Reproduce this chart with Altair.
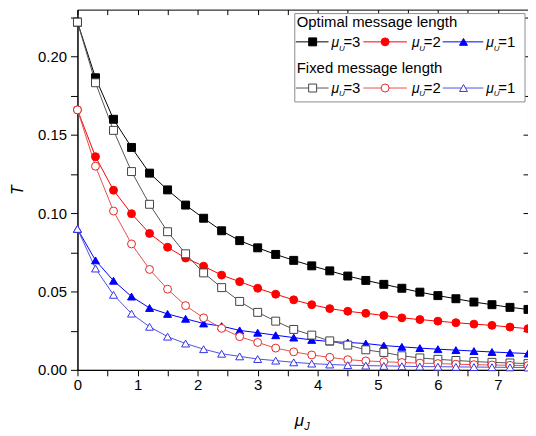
import altair as alt
import pandas as pd

# ---------------- data ----------------
mu_j = [0.0, 0.3, 0.6, 0.9, 1.2, 1.5, 1.8, 2.1, 2.4, 2.7, 3.0, 3.3, 3.6, 3.9,
        4.2, 4.5, 4.8, 5.1, 5.4, 5.7, 6.0, 6.3, 6.6, 6.9, 7.2, 7.5]

opt_mu3 = [0.222, 0.1865, 0.160, 0.142, 0.1256, 0.1149, 0.1052, 0.0968, 0.0888,
           0.0825, 0.0779, 0.0737, 0.0699, 0.0664, 0.0632, 0.0599, 0.0571, 0.0546,
           0.0521, 0.0496, 0.0474, 0.0454, 0.0433, 0.0416, 0.0399, 0.0386]
opt_mu2 = [0.166, 0.1361, 0.1147, 0.0997, 0.0871, 0.0783, 0.0714, 0.0662, 0.0605,
           0.0563, 0.0521, 0.0483, 0.0447, 0.0416, 0.0391, 0.0374, 0.0361, 0.0347,
           0.0332, 0.0321, 0.0311, 0.0301, 0.0292, 0.0284, 0.0273, 0.0263]
opt_mu1 = [0.090, 0.0699, 0.0569, 0.0468, 0.0395, 0.0357, 0.0326, 0.0296, 0.0279,
           0.0252, 0.0237, 0.0221, 0.0206, 0.0191, 0.0181, 0.0175, 0.0168, 0.0155,
           0.0147, 0.0139, 0.0132, 0.0126, 0.0120, 0.0114, 0.0109, 0.0104]
fix_mu3 = [0.222, 0.1833, 0.1529, 0.1266, 0.1057, 0.0882, 0.0741, 0.0619, 0.0525,
           0.0437, 0.0367, 0.0311, 0.0258, 0.0222, 0.0185, 0.0158, 0.0128, 0.0111,
           0.0090, 0.0076, 0.0067, 0.0060, 0.0053, 0.0048, 0.0044, 0.0040]
fix_mu2 = [0.166, 0.130, 0.1014, 0.0804, 0.0641, 0.0515, 0.0410, 0.0332, 0.0265,
           0.0212, 0.0175, 0.0139, 0.0115, 0.0095, 0.0080, 0.0065, 0.0057, 0.0052,
           0.0047, 0.0043, 0.0040, 0.0036, 0.0033, 0.0031, 0.0029, 0.0027]
fix_mu1 = [0.090, 0.0647, 0.0479, 0.0359, 0.0275, 0.0212, 0.0168, 0.0132, 0.0103,
           0.0086, 0.0069, 0.0059, 0.0048, 0.0040, 0.0034, 0.0030, 0.0027, 0.0025,
           0.0023, 0.0021, 0.0020, 0.0019, 0.0018, 0.0017, 0.0016, 0.0015]

series_keys = ["opt3", "opt2", "opt1", "fix3", "fix2", "fix1"]
series_vals = [opt_mu3, opt_mu2, opt_mu1, fix_mu3, fix_mu2, fix_mu1]
legend_nums = ["=3", "=2", "=1", "=3", "=2", "=1"]
legend_titles = ["Optimal message length", "Fixed message length"]

x_ticks = [0, 0.5, 1, 1.5, 2, 2.5, 3, 3.5, 4, 4.5, 5, 5.5, 6, 6.5, 7, 7.5]
y_ticks = [0, 0.025, 0.05, 0.075, 0.1, 0.125, 0.15, 0.175, 0.2, 0.225]

# ---------------- styles ----------------
line_colors = ["#000000", "#ff0000", "#0000ff", "#555555", "#e65050", "#5050e6"]
shapes = ["square", "circle", "triangle-up", "square", "circle", "triangle-up"]
fills = ["#000000", "#ff0000", "#0000ff", "#ffffff", "#ffffff", "#ffffff"]
strokes = ["#000000", "#ff0000", "#0000ff", "#444444", "#e02828", "#3434e0"]
FONT = "Liberation Sans"

rows = []
for key, vals in zip(series_keys, series_vals):
    for xv, tv in zip(mu_j, vals):
        rows.append({"mu_j": xv, "T": tv, "series": key})
df = pd.DataFrame(rows)

W, H = 454, 363
xs = alt.Scale(domain=[0, 7.5], nice=False, zero=False)
ys = alt.Scale(domain=[0, 0.23], nice=False, zero=False)
col_s = alt.Scale(domain=series_keys, range=line_colors)
shp_s = alt.Scale(domain=series_keys, range=shapes)
fil_s = alt.Scale(domain=series_keys, range=fills)
stk_s = alt.Scale(domain=series_keys, range=strokes)

x_axis = alt.Axis(values=x_ticks, labelExpr="datum.value % 1 == 0 ? format(datum.value, 'd') : ''",
                  tickSize=6, labelFontSize=15, labelPadding=2, labelFlush=False, labelOverlap=False,
                  title=None, grid=False, domainColor="black", tickColor="black",
                  labelColor="black", labelFont=FONT)
y_axis = alt.Axis(values=y_ticks,
                  labelExpr="abs(datum.value*20 - round(datum.value*20)) < 1e-6 ? format(datum.value, '.2f') : ''",
                  tickSize=7, labelFontSize=15, labelPadding=4, labelOverlap=False, labelFlush=False,
                  title="T", titleFontStyle="italic", titleFontWeight="normal", titleFontSize=16,
                  titleFont=FONT, titleColor="black", titlePadding=12,
                  grid=False, domainColor="black", tickColor="black", labelColor="black", labelFont=FONT)

lines = alt.Chart(df).mark_line(strokeWidth=1).encode(
    x=alt.X("mu_j:Q", scale=xs, axis=x_axis),
    y=alt.Y("T:Q", scale=ys, axis=y_axis),
    color=alt.Color("series:N", scale=col_s, legend=None),
    detail="series:N",
)

points = alt.Chart(df).mark_point(opacity=1, strokeWidth=1, size=64).encode(
    x=alt.X("mu_j:Q", scale=xs, axis=None),
    y=alt.Y("T:Q", scale=ys, axis=None),
    shape=alt.Shape("series:N", scale=shp_s, legend=None),
    fill=alt.Fill("series:N", scale=fil_s, legend=None),
    stroke=alt.Stroke("series:N", scale=stk_s, legend=None),
    order=alt.Order("order:Q"),
).transform_calculate(order="indexof(%s, datum.series)" % str(series_keys))

frame_axes = alt.Chart(df).mark_point(opacity=0).encode(
    x=alt.X("mu_j:Q", scale=xs, axis=alt.Axis(orient="top", values=x_ticks, labels=False, domain=False,
                                              tickSize=5, offset=-5, title=None, grid=False, tickColor="black")),
    y=alt.Y("T:Q", scale=ys, axis=alt.Axis(orient="right", values=y_ticks, labels=False, domain=False,
                                           tickSize=5, offset=-5, title=None, grid=False, tickColor="black")),
)

# ---------------- legend (layout in pixels) ----------------
leg = pd.DataFrame({
    "series": series_keys,
    "num": legend_nums,
    "x1": [220, 288, 368, 220, 288, 368],
    "x2": [253, 332, 409, 253, 332, 409],
    "xm": [237, 310, 389, 237, 310, 389],
    "xl": [256, 337, 412, 256, 337, 412],
    "ly": [32.5, 32.5, 32.5, 79, 79, 79],
    "lb": [38, 38, 38, 84, 84, 84],
})
leg["xu"] = leg["xl"] + 7.5
leg["xe"] = leg["xl"] + 12
leg["lbu"] = leg["lb"] + 3.5

box_df = pd.DataFrame({"bx1": [219], "bx2": [451], "by1": [4], "by2": [93]})
titles_df = pd.DataFrame({"tx": [221, 221], "ty": [18, 64], "text": legend_titles})

box = alt.Chart(box_df).mark_rect(fill="white", stroke="#8c8c8c", strokeWidth=1).encode(
    x=alt.X("bx1:Q", scale=None, axis=None), x2="bx2:Q",
    y=alt.Y("by1:Q", scale=None, axis=None), y2="by2:Q")

leg_titles = alt.Chart(titles_df).mark_text(font=FONT, fontSize=15, align="left", baseline="alphabetic",
                                            color="black").encode(
    x=alt.X("tx:Q", scale=None, axis=None), y=alt.Y("ty:Q", scale=None, axis=None), text="text:N")

leg_lines = alt.Chart(leg).mark_rule(strokeWidth=1).encode(
    x=alt.X("x1:Q", scale=None, axis=None), x2="x2:Q",
    y=alt.Y("ly:Q", scale=None, axis=None),
    color=alt.Color("series:N", scale=col_s, legend=None))

leg_points = alt.Chart(leg).mark_point(opacity=1, strokeWidth=1, size=64).encode(
    x=alt.X("xm:Q", scale=None, axis=None), y=alt.Y("ly:Q", scale=None, axis=None),
    shape=alt.Shape("series:N", scale=shp_s, legend=None),
    fill=alt.Fill("series:N", scale=fil_s, legend=None),
    stroke=alt.Stroke("series:N", scale=stk_s, legend=None))

leg_mu = alt.Chart(leg).mark_text(font=FONT, fontSize=14, fontStyle="italic", align="left",
                                  baseline="alphabetic", color="black").encode(
    x=alt.X("xl:Q", scale=None, axis=None), y=alt.Y("lb:Q", scale=None, axis=None), text=alt.value("μ"))
leg_u = alt.Chart(leg).mark_text(font=FONT, fontSize=8, fontStyle="italic", align="left",
                                 baseline="alphabetic", color="black").encode(
    x=alt.X("xu:Q", scale=None, axis=None), y=alt.Y("lbu:Q", scale=None, axis=None), text=alt.value("U"))
leg_num = alt.Chart(leg).mark_text(font=FONT, fontSize=15, align="left",
                                   baseline="alphabetic", color="black").encode(
    x=alt.X("xe:Q", scale=None, axis=None), y=alt.Y("lb:Q", scale=None, axis=None), text="num:N")

# x-axis title  mu_J
xt_df = pd.DataFrame({"x": [219, 228.5], "y": [420, 424], "t": ["μ", "J"], "s": [17, 11]})
x_title = alt.Chart(xt_df).mark_text(font=FONT, fontStyle="italic", align="left", baseline="alphabetic",
                                     color="black").encode(
    x=alt.X("x:Q", scale=None, axis=None), y=alt.Y("y:Q", scale=None, axis=None), text="t:N",
    size=alt.Size("s:Q", scale=None, legend=None))

chart = alt.layer(
    frame_axes, lines, points, box, leg_titles, leg_lines, leg_points, leg_mu, leg_u, leg_num, x_title
).resolve_axis(x="independent", y="independent").properties(
    width=W, height=H,
    padding={"left": 70, "top": 0, "right": 0, "bottom": 62},
    autosize=alt.AutoSizeParams(type="none"),
).configure_view(stroke="black", strokeWidth=1)

chart.save("out.html", embed_options={"renderer": "svg", "actions": False})
